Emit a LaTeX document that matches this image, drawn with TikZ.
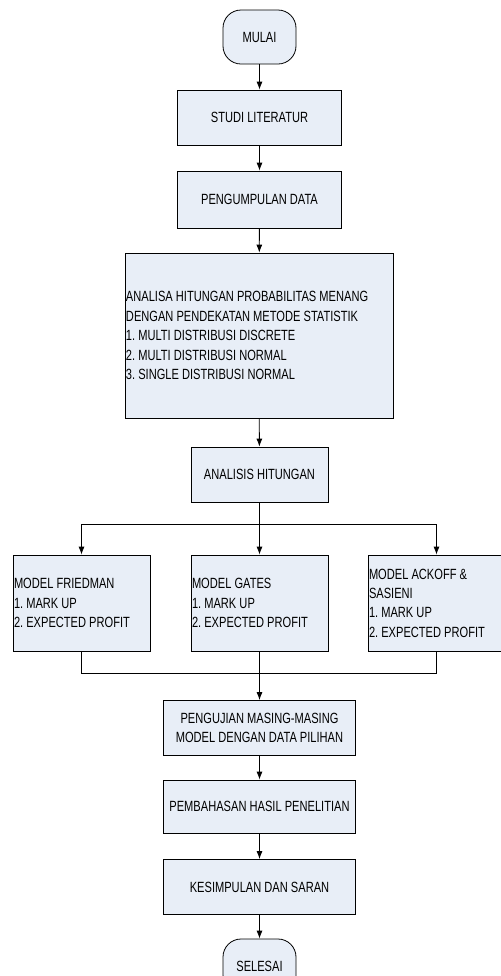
\documentclass[tikz,border=0pt]{standalone}
\usepackage{fontspec}
\setmainfont{Liberation Sans}[FakeStretch=0.75]
\usepackage{tikz}
\usetikzlibrary{arrows.meta}
\definecolor{boxfill}{RGB}{232,238,247}

\begin{document}
\begin{tikzpicture}[x=0.5pt, y=-0.5pt,
    every node/.style={font=\fontsize{7.4}{9.7}\selectfont\frenchspacing},
    >={Latex[length=4pt,width=3pt]},
    proc/.style={rectangle, draw, fill=boxfill, inner sep=0.5pt, minimum height=27.5pt},
    term/.style={rectangle, draw, fill=boxfill, rounded corners=9pt, minimum width=36.5pt, minimum height=27pt},
    listbox/.style={proc, align=flush left}]
  \useasboundingbox (0,0) rectangle (500,976);

  % Nodes
  \node[term] (mulai) at (259.5,37) {MULAI};
  \node[proc, minimum width=82pt] (studi) at (259.5,117.5) {STUDI LITERATUR};
  \node[proc, minimum width=82pt, minimum height=28.5pt] (data) at (259.5,199.5) {PENGUMPULAN DATA};
  \node[listbox, text width=133pt, minimum height=82.5pt] (analisa) at (259,335.5) {ANALISA HITUNGAN PROBABILITAS MENANG\\DENGAN PENDEKATAN METODE STATISTIK\\1. MULTI DISTRIBUSI DISCRETE\\2. MULTI DISTRIBUSI NORMAL\\3. SINGLE DISTRIBUSI NORMAL};
  \node[proc, minimum width=68.5pt] (analisis) at (259.5,474.5) {ANALISIS HITUNGAN};
  \node[listbox, text width=67.5pt, minimum height=48pt] (friedman) at (81.5,603) {MODEL FRIEDMAN\\1. MARK UP\\2. EXPECTED PROFIT};
  \node[listbox, text width=67.5pt, minimum height=48pt] (gates) at (259.5,603) {MODEL GATES\\1. MARK UP\\2. EXPECTED PROFIT};
  \node[listbox, text width=67.5pt, minimum height=48pt] (ackoff) at (436.5,603) {MODEL ACKOFF \&\\SASIENI\\1. MARK UP\\2. EXPECTED PROFIT};
  \node[proc, align=center, minimum width=96pt] (uji) at (259.5,728) {PENGUJIAN MASING-MASING\\MODEL DENGAN DATA PILIHAN};
  \node[proc, minimum width=96pt, minimum height=26.5pt] (bahas) at (259.5,806.5) {PEMBAHASAN HASIL PENELITIAN};
  \node[proc, minimum width=96pt] (simpul) at (259.5,887) {KESIMPULAN DAN SARAN};
  \node[term] (selesai) at (259.5,966) {SELESAI};
  \coordinate (split) at (259.5,524);
  \coordinate (join) at (259.5,673);

  % Edges
  \draw[->] (mulai) -- (studi);
  \draw[->] (studi) -- (data);
  \draw[->] (data) -- (analisa);
  \draw[->] (analisa) -- (analisis);
  \draw (analisis) -- (split);
  \draw[->] (split) -| (friedman);
  \draw[->] (split) -- (gates);
  \draw[->] (split) -| (ackoff);
  \draw (friedman) |- (join);
  \draw (gates) -- (join);
  \draw (ackoff) |- (join);
  \draw[->] (join) -- (uji);
  \draw[->] (uji) -- (bahas);
  \draw[->] (bahas) -- (simpul);
  \draw[->] (simpul) -- (selesai);
\end{tikzpicture}
\end{document}
